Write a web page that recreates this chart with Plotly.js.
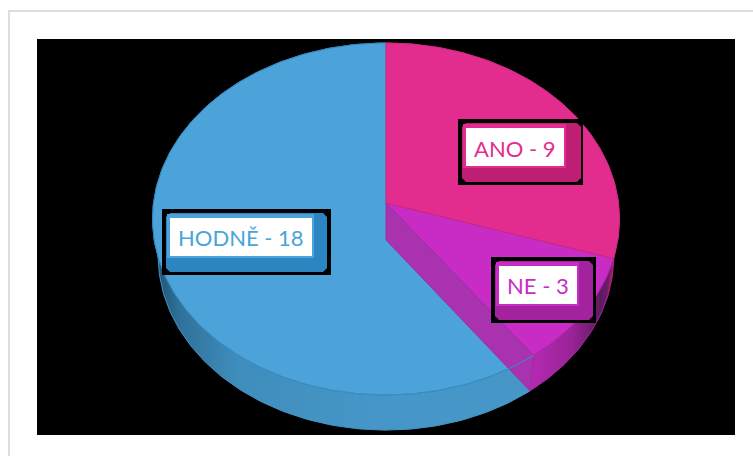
<!DOCTYPE html>
<html>
<head>
<meta charset="utf-8">
<script src="https://cdn.plot.ly/plotly-3.0.1.min.js"></script>
<style>html,body{margin:0;padding:0;background:#fff}#c{width:753px;height:456px}</style>
</head>
<body>
<div id="c"></div>
<script>
const categories = ['ANO', 'NE', 'HODNĚ'];
const values = [9, 3, 18];
const topColors = ['#E32D8E', '#C82CC4', '#4BA3DA'];
const edgeColors = ['#C92A82', '#B02AAE', '#2F86BE'];
const darkColors = ['#BE1F75', '#A3239F', '#2A85C0'];

const total = values.reduce((a, b) => a + b, 0);
const deg = Math.PI / 180;

// Tilted-disc projection: angle (clockwise from 12 o'clock) to page pixels
function rim(theta, level) {
  const u = Math.sin(theta), v = -Math.cos(theta), w = 1 - 0.0909 * v;
  const x = 232.5 * u / w, y = (156.09 * v + 203) / w - 203;
  return level === 0 ? [386 + x, 203 + y] : [386 + 0.976 * x, 240 + 0.99 * y];
}
function arc(a, b, level) {
  const pts = [], n = Math.max(4, Math.ceil(Math.abs(b - a) / deg));
  for (let i = 0; i <= n; i++) pts.push(rim(a + (b - a) * i / n, level));
  return pts;
}
function poly(pts, fill, line, extra) {
  return Object.assign({
    type: 'scatter', mode: 'lines', x: pts.map(p => p[0]), y: pts.map(p => p[1]),
    fill: 'toself', fillcolor: fill, line: { color: line, width: 1 }, hoverinfo: 'skip'
  }, extra || {});
}

let acc = 0;
const angles = values.map(v => { const s = acc; acc += v / total * 2 * Math.PI; return [s, acc]; });
const [pink, mag, blue] = angles;

const traces = [];
// side walls
traces.push(poly(arc(blue[0], blue[1], 0).concat(arc(blue[1], blue[0], 1)), '#4495C6', '#4495C6', {
  fillgradient: { type: 'horizontal', colorscale: [[0, '#1F4F70'], [0.07, '#2F7199'], [0.22, '#3F8DBC'], [0.6, '#4697C8'], [1, '#4697C8']] }
}));
traces.push(poly(arc(mag[0], mag[1], 0).concat(arc(mag[1], mag[0], 1)), '#A828A8', '#A828A8', {
  fillgradient: { type: 'horizontal', colorscale: [[0, '#B52AB3'], [0.5, '#9A2398'], [0.85, '#5E1A5E'], [1, '#7A1F72']] }
}));
traces.push(poly(arc(pink[0], pink[1], 0).concat(arc(pink[1], pink[0], 1)), '#B01F70', '#B01F70'));
// top faces
angles.slice().reverse().forEach((a, i) => {
  const k = 2 - i;
  traces.push(poly([[386, 203]].concat(arc(a[0], a[1], 0), [[386, 203]]), topColors[k], edgeColors[k]));
});
// inner wall seen through the disc
traces.push(poly([[386, 203], rim(mag[1], 0), rim(mag[1], 1), [386, 240], [386, 203]], '#A932AF', '#A02EA6'));
// front rim line of the blue sector
const rimLine = arc(mag[1], blue[1] - 130 * deg, 0);
traces.push({ type: 'scatter', mode: 'lines', x: rimLine.map(p => p[0]), y: rimLine.map(p => p[1]),
  line: { color: '#3A8FC6', width: 1 }, hoverinfo: 'skip' });

function rr(x0, y0, x1, y1, r) {
  return `M${x0 + r},${y0}L${x1 - r},${y0}L${x1},${y0 + r}L${x1},${y1 - r}L${x1 - r},${y1}L${x0 + r},${y1}L${x0},${y1 - r}L${x0},${y0 + r}Z`;
}
const boxes = [
  { black: [458, 119, 583, 185], btn: [462, 123, 581, 182], white: [466, 128, 564, 166], tx: 515, ty: 148 },
  { black: [491, 257, 596, 323], btn: [495, 261, 593, 320], white: [499, 266, 577, 304], tx: 538, ty: 285 },
  { black: [162, 209, 331, 275], btn: [166, 213, 327, 272], white: [170, 218, 312, 256], tx: 241, ty: 237 }
];
const shapes = [
  { type: 'rect', layer: 'below', x0: 37, x1: 735, y0: 39, y1: 435, fillcolor: '#000', line: { width: 0 } },
  { type: 'rect', layer: 'below', x0: 8, x1: 10, y0: 10, y1: 456, fillcolor: '#DDDDDD', line: { width: 0 } },
  { type: 'rect', layer: 'below', x0: 8, x1: 753, y0: 10, y1: 12, fillcolor: '#DDDDDD', line: { width: 0 } }
];
const annotations = [];
boxes.forEach((b, i) => {
  const w = b.white, p = b.btn, k = b.black;
  shapes.push({ type: 'rect', x0: k[0], y0: k[1], x1: k[2], y1: k[3], fillcolor: '#000', line: { width: 0 } });
  shapes.push({ type: 'path', path: rr(p[0], p[1], p[2], p[3], 4), fillcolor: darkColors[i], line: { width: 0 } });
  shapes.push({ type: 'rect', x0: p[0] + 1, y0: p[1] + 1, x1: w[2] + 2, y1: w[3] + 2, fillcolor: topColors[i], line: { width: 0 } });
  shapes.push({ type: 'rect', x0: w[0], y0: w[1], x1: w[2], y1: w[3], fillcolor: '#FFFFFF', line: { width: 0 } });
  annotations.push({
    x: b.tx, y: b.ty, xref: 'x', yref: 'y', showarrow: false,
    text: categories[i] + ' - ' + values[i],
    font: { family: 'Lato, "Open Sans", sans-serif', size: 22, color: topColors[i] }
  });
});

Plotly.newPlot('c', traces, {
  width: 753, height: 456,
  margin: { l: 0, r: 0, t: 0, b: 0 },
  paper_bgcolor: '#FFFFFF', plot_bgcolor: '#FFFFFF',
  showlegend: false,
  xaxis: { range: [0, 753], visible: false, fixedrange: true },
  yaxis: { range: [456, 0], visible: false, fixedrange: true },
  shapes, annotations
}, { displayModeBar: false, staticPlot: true });
</script>
</body>
</html>
